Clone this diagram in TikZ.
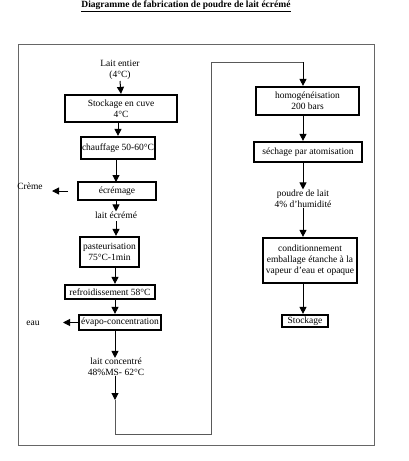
\documentclass[tikz,border=0pt]{standalone}
\usepackage{fontspec}
\setmainfont{Liberation Serif}
\usetikzlibrary{arrows.meta}
\begin{document}
\begin{tikzpicture}[x=1pt,y=-1pt,
  every node/.style={font=\fontsize{9.5}{11}\selectfont, inner sep=0pt, align=center},
  stepbox/.style={draw=black, line width=2.2pt, fill=white},
  lbl/.style={fill=none},
  flow/.style={draw=black, line width=1pt, -{Triangle[length=7pt,width=7pt]}},
  link/.style={draw=black!65, line width=1pt},
  frame/.style={draw=black!60, line width=1pt}]
\useasboundingbox (0,0) rectangle (408,461);
% title
\node (title) at (186,6) {\textbf{\underline{Diagramme de fabrication de poudre de lait écrémé}}};
% outer frame
\draw[frame] (18,44) rectangle (374,445);
% left column
\node[lbl] (entier) at (120,70) {Lait entier\\(4°C)};
\node[stepbox, minimum width=112pt, minimum height=27pt] (stock) at (121,108.5) {Stockage en cuve\\4°C};
\node[stepbox, minimum width=74pt, minimum height=22pt] (chauf) at (118,148) {chauffage 50-60°C};
\node[stepbox, minimum width=78pt, minimum height=18pt] (ecre) at (117,191) {écrémage};
\node[lbl] (creme) at (30,186) {Crème};
\coordinate (cre1) at (68,191);
\coordinate (cre2) at (52,191);
\node[lbl] (lecr) at (116,215) {lait écrémé};
\node[stepbox, minimum width=59pt, minimum height=30pt] (past) at (109.5,252) {pasteurisation\\75°C-1min};
\node[stepbox, minimum width=90pt, minimum height=14pt] (refr) at (110,292) {refroidissement 58°C};
\node[stepbox, minimum width=82pt, minimum height=15pt] (evap) at (120,322.5) {évapo-concentration};
\node[lbl] (eau) at (33,323) {eau};
\coordinate (eau1) at (79,322.5);
\coordinate (eau2) at (63,322.5);
\node[lbl] (lconc) at (116,367) {lait concentré\\48\%MS- 62°C};
% long connector
\coordinate (k0) at (115,400);
\coordinate (k1) at (115,434);
\coordinate (k2) at (211,434);
\coordinate (k3) at (211,62);
\coordinate (k4) at (303,62);
% right column
\node[stepbox, minimum width=103pt, minimum height=28pt] (homo) at (307.5,101) {homogénéisation\\200 bars};
\node[stepbox, minimum width=108pt, minimum height=20pt] (sech) at (308,152) {séchage par atomisation};
\node[lbl] (poudre) at (303,198.5) {poudre de lait\\4\% d'humidité};
\node[stepbox, minimum width=94pt, minimum height=45pt] (cond) at (310,260.5) {conditionnement\\emballage étanche à la\\vapeur d'eau et opaque};
\node[stepbox, minimum width=46pt, minimum height=12pt] (stk) at (305,321) {Stockage};
% arrows left
\draw[flow] (entier.south |- 0,81) -- (stock.north);
\draw[flow] (stock.south -| chauf) -- (chauf.north);
\draw[flow] (chauf.south -| 116,0) -- (116,182);
\draw[flow] (cre1) -- (cre2);
\draw[flow] (ecre.south -| 116,0) -- (lecr.north -| 116,0);
\draw[flow] (116,221) -- (past.north -| 116,0);
\draw[flow] (past.south -| 115,0) -- (refr.north -| 115,0);
\draw[flow] (refr.south -| 115,0) -- (evap.north -| 115,0);
\draw[flow] (eau1) -- (eau2);
\draw[flow] (evap.south -| 115,0) -- (lconc.north -| 115,0);
\draw[flow] (lconc.south -| 115,0) -- (k0);
\draw[link] (k0) -- (k1) -- (k2) -- (k3) -- (k4);
% arrows right
\draw[flow] (k4) -- (homo.north -| k4);
\draw[flow] (homo.south -| k4) -- (sech.north -| k4);
\draw[flow] (sech.south -| k4) -- (poudre.north -| k4);
\draw[flow] (poudre.south -| k4) -- (cond.north -| k4);
\draw[flow] (cond.south -| k4) -- (stk.north -| k4);
\end{tikzpicture}
\end{document}
